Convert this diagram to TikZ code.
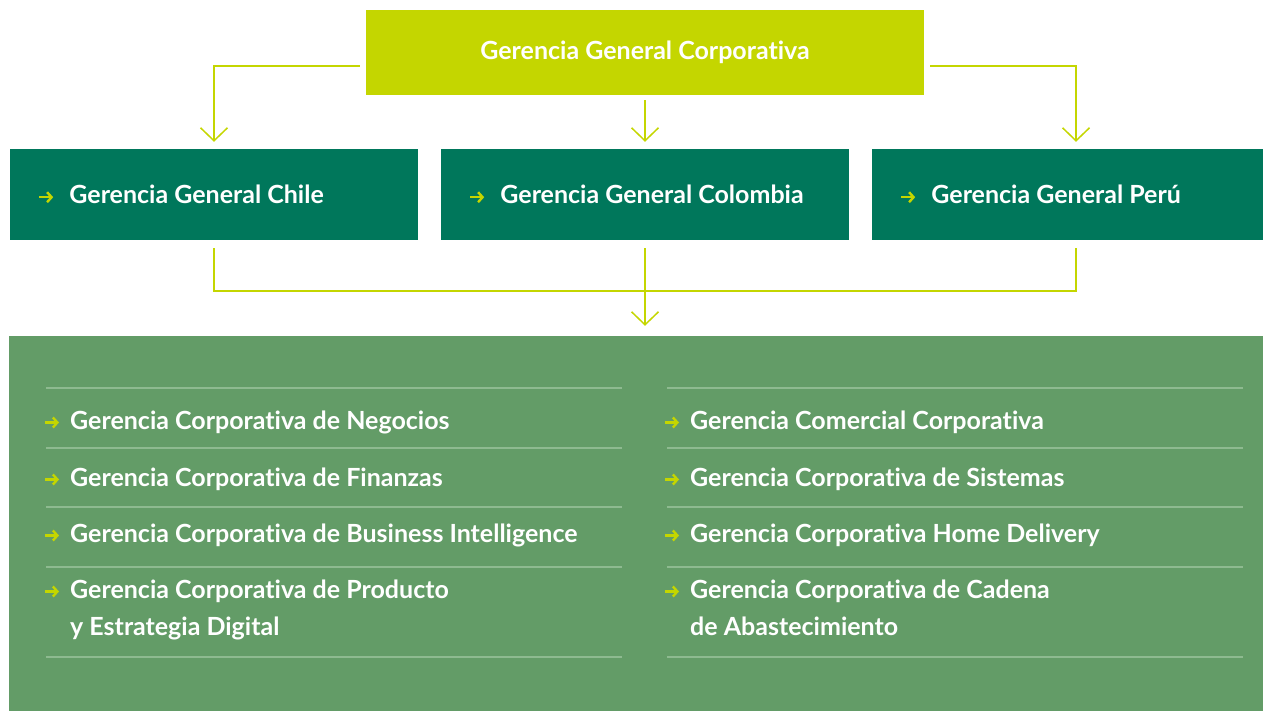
\documentclass[tikz,border=0pt]{standalone}
\usepackage{fontspec}
\setmainfont{Lato}[Ligatures=NoCommon]
\usetikzlibrary{arrows.meta, positioning}
\definecolor{cf_lime}{HTML}{C4D600}
\definecolor{cf_teal}{HTML}{00775B}
\definecolor{cf_green}{HTML}{639C67}
\definecolor{cf_sep}{HTML}{8EBA90}
\newcommand{\flecha}{\tikz[baseline=-6.5pt]\draw[cf_lime, line width=2.4pt,
  -{Straight Barb[length=4.5pt, width=10pt]}] (0,0) -- (14pt,0);}
\newcommand{\dos}[2]{\begin{tabular}[t]{@{}l@{}}#1\\#2\end{tabular}}

\begin{document}
\begin{tikzpicture}[x=1pt, y=-1pt, font=\fontsize{25}{37}\selectfont\bfseries,
    topbox/.style={fill=cf_lime, text=white, minimum width=558pt, minimum height=85pt},
    pais/.style={fill=cf_teal, text=white, minimum width=408pt, minimum height=91pt,
                 text width=352pt, inner xsep=28pt, align=flush left},
    grupo/.style={fill=cf_green, minimum width=1272pt, minimum height=376pt},
    conn/.style={cf_lime, line width=1.5pt},
    tip/.style={-{Straight Barb[length=13pt, width=27pt]}},
    sep/.style={cf_sep, line width=1.2pt},
    item/.style={text=white, anchor=base west, inner sep=0pt}]
  \useasboundingbox (0,0) rectangle (1263,710);
  \clip (0,0) rectangle (1263,710);
  % Gerencias generales
  \node[topbox] (corp) at (645,52.5) {Gerencia General Corporativa};
  \node[pais] (chile) at (214,194.5) {\flecha\hspace{15pt}Gerencia General Chile};
  \node[pais] (colombia) at (645,194.5) {\flecha\hspace{15pt}Gerencia General Colombia};
  \node[pais] (peru) at (1076,194.5) {\flecha\hspace{15pt}Gerencia General Perú};
  \node[grupo] (grupo) at (645,524) {};
  % Conectores
  \draw[conn, tip, shorten <=6pt, shorten >=7pt] ([yshift=-13.5pt]corp.west) -| (chile.north);
  \draw[conn, tip, shorten <=5pt, shorten >=7pt] (corp.south) -- (colombia.north);
  \draw[conn, tip, shorten <=6pt, shorten >=7pt] ([yshift=-13.5pt]corp.east) -| (peru.north);
  \coordinate (union) at (645,291);
  \draw[conn, shorten <=8pt] (chile.south) |- (union);
  \draw[conn, shorten <=8pt] (peru.south) |- (union);
  \draw[conn, tip, shorten <=8pt, shorten >=10pt] (colombia.south) -- (grupo.north);
  % Separadores
  \foreach \y in {388,448,507,567,657}{
    \draw[sep] (46,\y) -- (622,\y);
    \draw[sep] (667,\y) -- (1243,\y);
  }
  % Gerencias corporativas
  \node[item] (negocios) at (70,429) {\llap{\flecha\hspace{10pt}}Gerencia Corporativa de Negocios};
  \node[item] (finanzas) at (70,486) {\llap{\flecha\hspace{10pt}}Gerencia Corporativa de Finanzas};
  \node[item] (bi) at (70,542) {\llap{\flecha\hspace{10pt}}Gerencia Corporativa de Business Intelligence};
  \node[item] (producto) at (70,598) {\llap{\flecha\hspace{10pt}}\dos{Gerencia Corporativa de Producto}{y Estrategia Digital}};
  \node[item] (comercial) at (690,429) {\llap{\flecha\hspace{10pt}}Gerencia Comercial Corporativa};
  \node[item] (sistemas) at (690,486) {\llap{\flecha\hspace{10pt}}Gerencia Corporativa de Sistemas};
  \node[item] (delivery) at (690,542) {\llap{\flecha\hspace{10pt}}Gerencia Corporativa Home Delivery};
  \node[item] (cadena) at (690,598) {\llap{\flecha\hspace{10pt}}\dos{Gerencia Corporativa de Cadena}{de Abastecimiento}};
\end{tikzpicture}
\end{document}
